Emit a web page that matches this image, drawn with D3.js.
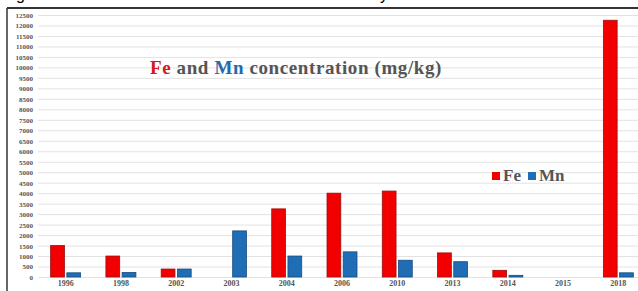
<!DOCTYPE html>
<meta charset="utf-8">
<style>
  body { margin: 0; background: #fff; }
  svg { display: block; }
  .grid line { stroke: #e2e2e2; stroke-width: 1; }
  .tick text { font-family: "Liberation Serif", "Times New Roman", serif; fill: #555; }
  .serif { font-family: "Liberation Serif", "Times New Roman", "DejaVu Serif", serif; }
</style>
<body>
<script src="https://d3js.org/d3.v7.min.js"></script>
<script>
  // data (mg/kg)
  var years = ["1996", "1998", "2002", "2003", "2004", "2006", "2010", "2013", "2014", "2015", "2018"];
  var fe = [1500, 1000, 380, 0, 3250, 4000, 4100, 1150, 320, 0, 12250];
  var mn = [200, 220, 380, 2200, 1000, 1200, 800, 730, 80, 0, 200];
  var yTicks = d3.range(0, 12501, 500);

  var width = 638, height = 291;
  var colors = { Fe: "#f20000", Mn: "#1f6db5" };
  var strokes = { Fe: "#9a1010", Mn: "#174d80" };

  var svg = d3.select("body").append("svg")
    .attr("width", width)
    .attr("height", height);

  // cut-off caption line above the figure
  svg.append("text").attr("x", 16).attr("y", 0)
    .style("font-family", "'Liberation Sans', sans-serif").attr("font-size", 16)
    .text("g");
  svg.append("text").attr("x", 380).attr("y", 0)
    .style("font-family", "'Liberation Sans', sans-serif").attr("font-size", 16)
    .text("y");

  // frame
  svg.append("line").attr("x1", 7).attr("x2", width).attr("y1", 8).attr("y2", 8)
    .attr("stroke", "#333").attr("stroke-width", 2);
  svg.append("line").attr("x1", 7).attr("x2", 7).attr("y1", 8).attr("y2", height)
    .attr("stroke", "#333").attr("stroke-width", 1.5);

  var y = d3.scaleLinear().domain([0, 12500]).range([277, 15]);
  var x = d3.scaleBand().domain(years).range([38, 646]).padding(0);
  var x1 = d3.scaleBand().domain(["Fe", "Mn"]).range([0, 30]).paddingInner(0.15);
  var groupOff = (x.bandwidth() - 30) / 2;

  // gridlines
  svg.append("g").attr("class", "grid")
    .selectAll("line").data(yTicks).enter().append("line")
    .attr("x1", 38).attr("x2", width)
    .attr("y1", function (d) { return y(d) + 0.5; })
    .attr("y2", function (d) { return y(d) + 0.5; });

  // y axis labels
  var yAxis = d3.axisLeft(y).tickValues(yTicks).tickSize(0).tickPadding(0)
    .tickFormat(d3.format("d"));
  svg.append("g")
    .attr("transform", "translate(33,0)")
    .call(yAxis)
    .call(function (g) { g.select(".domain").remove(); })
    .selectAll("text").attr("font-size", 7).attr("font-weight", "bold").attr("dy", "0.35em");

  // x axis labels
  var xAxis = d3.axisBottom(x).tickSize(0).tickPadding(0);
  svg.append("g")
    .attr("transform", "translate(0,280)")
    .call(xAxis)
    .call(function (g) { g.select(".domain").remove(); })
    .selectAll("text").attr("font-size", 8).attr("font-weight", "bold").attr("dy", "0.75em");

  var rows = years.map(function (yr, i) {
    return { year: yr, vals: [{ k: "Fe", v: fe[i] }, { k: "Mn", v: mn[i] }] };
  });

  var groups = svg.append("g").selectAll("g").data(rows).enter().append("g")
    .attr("transform", function (d) { return "translate(" + (x(d.year) + groupOff) + ",0)"; });

  groups.selectAll("rect")
    .data(function (d) { return d.vals.filter(function (e) { return e.v > 0; }); })
    .enter().append("rect")
    .attr("x", function (d) { return x1(d.k); })
    .attr("width", x1.bandwidth())
    .attr("y", function (d) { return y(d.v); })
    .attr("height", function (d) { return y(0) - y(d.v); })
    .attr("fill", function (d) { return colors[d.k]; })
    .attr("stroke", function (d) { return strokes[d.k]; })
    .attr("stroke-width", 0.8);

  // title
  var title = svg.append("text")
    .attr("class", "serif")
    .attr("x", 150).attr("y", 74)
    .attr("font-size", 19).attr("font-weight", "bold")
    .attr("letter-spacing", 0.6)
    .attr("fill", "#555");
  title.append("tspan").attr("fill", "#d81818").text("Fe");
  title.append("tspan").text(" and ");
  title.append("tspan").attr("fill", "#2369ad").text("Mn");
  title.append("tspan").text(" concentration (mg/kg)");

  // legend
  var legend = svg.append("g").attr("transform", "translate(492,172)");
  var legItems = [{ k: "Fe", x: 0 }, { k: "Mn", x: 36 }];
  legend.selectAll("rect").data(legItems).enter().append("rect")
    .attr("x", function (d) { return d.x; }).attr("y", 0)
    .attr("width", 8).attr("height", 8)
    .attr("fill", function (d) { return colors[d.k]; });
  legend.selectAll("text").data(legItems).enter().append("text")
    .attr("class", "serif")
    .attr("x", function (d) { return d.x + 11; }).attr("y", 9)
    .attr("font-size", 17).attr("font-weight", "bold")
    .attr("fill", "#555")
    .text(function (d) { return d.k; });
</script>
</body>
